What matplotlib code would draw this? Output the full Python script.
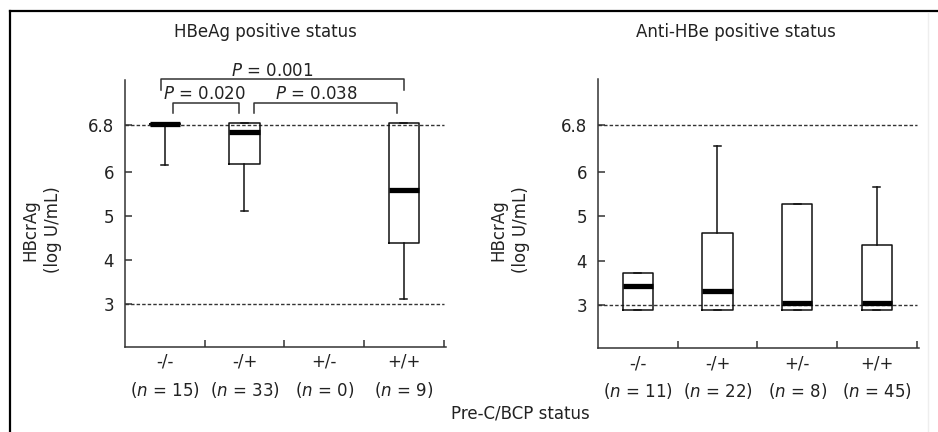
import numpy as np
import matplotlib.pyplot as plt
from matplotlib.lines import Line2D

# HBcrAg (log U/mL) box statistics
categories = ['-/-', '-/+', '+/-', '+/+']

left_n = [15, 33, 0, 9]
left_med = [6.82, 6.69, None, 5.59]
left_q1 = [6.82, 6.13, None, 4.38]
left_q3 = [6.82, 6.83, None, 6.83]
left_lo = [6.12, 5.11, None, 3.12]
left_hi = [6.82, 6.83, None, 6.83]

right_n = [11, 22, 8, 45]
right_med = [3.42, 3.32, 3.04, 3.04]
right_q1 = [2.89, 2.89, 2.89, 2.89]
right_q3 = [3.71, 4.62, 5.26, 4.35]
right_lo = [2.89, 2.89, 2.89, 2.89]
right_hi = [3.71, 6.44, 5.26, 5.65]

ytick_vals = [3, 4, 5, 6, 6.8]
ytick_labels = ['3', '4', '5', '6', '6.8']

# pairwise comparisons in the left panel: (cat a, cat b, label)
comparisons = [('-/-', '-/+', '$P$ = 0.020'),
               ('-/+', '+/+', '$P$ = 0.038'),
               ('-/-', '+/+', '$P$ = 0.001')]

plt.rcParams['font.family'] = 'DejaVu Sans'
plt.rcParams['mathtext.fontset'] = 'dejavusans'
TXT = '#222222'

# the 6..6.8 range is stretched on the original axis
K = 1.32
def fwd(v):
    v = np.asarray(v, dtype=float)
    return np.where(v <= 6, v, 6 + (v - 6) * K)

def inv(v):
    v = np.asarray(v, dtype=float)
    return np.where(v <= 6, v, 6 + (v - 6) / K)

W, H = 938, 432
fig = plt.figure(figsize=(9.38, 4.32), dpi=100)


def px_axes(x0, x1, ytop, ybot):
    return fig.add_axes([x0 / W, 1 - ybot / H, (x1 - x0) / W, (ybot - ytop) / H])


def draw_panel(ax, n, med, q1, q3, lo, hi):
    ax.set_yscale('function', functions=(fwd, inv))
    ax.set_xlim(0, 4.03)
    ax.set_ylim(2.035, inv(8.08))
    stats, pos = [], []
    for i in range(len(categories)):
        if med[i] is None:
            continue
        stats.append(dict(med=med[i], q1=q1[i], q3=q3[i], whislo=lo[i], whishi=hi[i], fliers=[]))
        pos.append(i + 0.5)
    ax.bxp(stats, positions=pos, widths=0.38, capwidths=0.09, showfliers=False,
           boxprops=dict(color='#111111', lw=1.1),
           whiskerprops=dict(color='#111111', lw=1.1),
           capprops=dict(color='#111111', lw=1.1),
           medianprops=dict(color='black', lw=3.8, solid_capstyle='butt'),
           manage_ticks=False)
    for yv in (3, 6.8):
        ax.plot([0, 4], [yv, yv], color='#333333', lw=1, ls=(0, (2.5, 1.5)), zorder=1)
    for s in ('top', 'right'):
        ax.spines[s].set_visible(False)
    ax.spines['left'].set_linewidth(1.1)
    ax.spines['bottom'].set_linewidth(1.1)
    ax.spines['left'].set_color('#333333')
    ax.spines['bottom'].set_color('#333333')
    ax.set_yticks(ytick_vals)
    ax.set_yticklabels(ytick_labels)
    ax.set_xticks([1, 2, 3, 4])
    ax.set_xticklabels([])
    ax.tick_params(axis='both', direction='in', length=5, width=1.1, color='#333333')
    ax.tick_params(axis='y', labelsize=12, labelcolor=TXT, pad=8)
    ax.patch.set_alpha(0)
    tr = ax.get_xaxis_transform()
    for i, cat in enumerate(categories):
        ax.text(i + 0.5, -0.056, cat, transform=tr, ha='center', va='center', fontsize=12, color=TXT)
        ax.text(i + 0.5, -0.161, '($n$ = %d)' % n[i], transform=tr, ha='center', va='center',
                fontsize=12, color=TXT)


axL = px_axes(125, 446, 80, 347)
draw_panel(axL, left_n, left_med, left_q1, left_q3, left_lo, left_hi)
axR = px_axes(598, 919, 79, 348)
draw_panel(axR, right_n, right_med, right_q1, right_q3, right_lo, right_hi)

# significance brackets
tr = axL.get_xaxis_transform()
bracket_geom = [(0.60, 1.43, 0.914, 0.876, 0.948, 1.0),
                (1.62, 3.41, 0.914, 0.876, 0.948, 2.4),
                (0.45, 3.50, 1.004, 0.962, 1.035, 1.85)]
for (a, b, lab), (xa, xb, ytop, yleg, ytxt, xtxt) in zip(comparisons, bracket_geom):
    axL.plot([xa, xa, xb, xb], [yleg, ytop, ytop, yleg], transform=tr, color='#333333',
             lw=1.1, clip_on=False)
    axL.text(xtxt, ytxt, lab, transform=tr, ha='center', va='center',
             fontsize=12, color=TXT, clip_on=False)

fig.text(265 / W, 1 - 32 / H, 'HBeAg positive status', ha='center', va='center',
         fontsize=12, color=TXT)
fig.text(736 / W, 1 - 32 / H, 'Anti-HBe positive status', ha='center', va='center',
         fontsize=12, color=TXT)
for xc in (42, 510):
    fig.text(xc / W, 1 - 230 / H, 'HBcrAg\n(log U/mL)', rotation=90, ha='center',
             va='center', fontsize=12, color=TXT, linespacing=1.35)
fig.text(520 / W, 1 - 413 / H, 'Pre-C/BCP status', ha='center', va='center',
         fontsize=12, color=TXT)

# frame around the figure
fig.add_artist(Line2D([10 / W, 10 / W], [0, 1 - 11 / H], color='black', lw=1.6))
fig.add_artist(Line2D([10 / W, 1], [1 - 11 / H, 1 - 11 / H], color='black', lw=1.6))
fig.add_artist(Line2D([928 / W, 928 / W], [0, 1 - 13 / H], color='#eeeeee', lw=1))

fig.savefig('out.png', dpi=100, facecolor='white')
